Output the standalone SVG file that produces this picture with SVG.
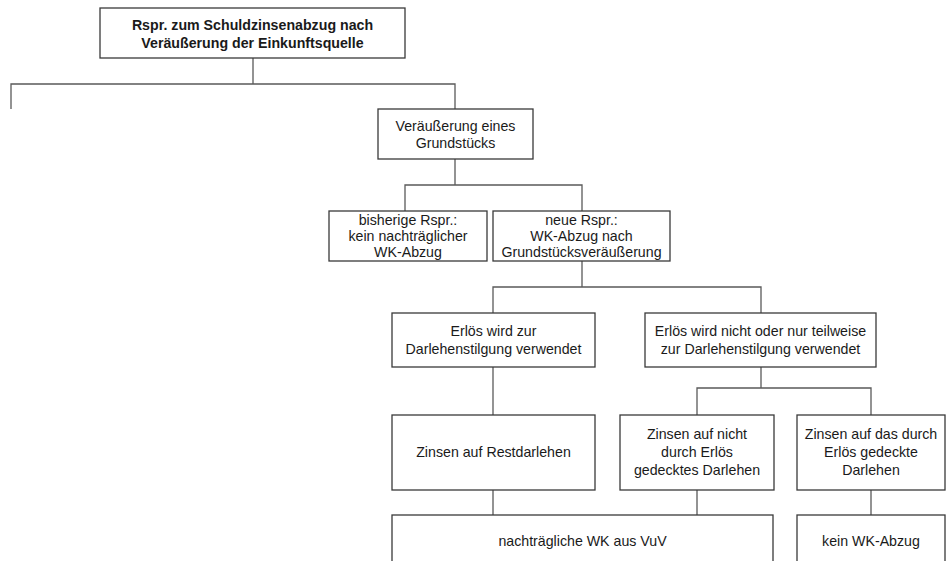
<svg xmlns="http://www.w3.org/2000/svg" width="952" height="561" viewBox="0 0 952 561">
  <style>
    .box { fill: #ffffff; stroke: #3a3a3a; stroke-width: 1.3; }
    .link { fill: none; stroke: #5a5a5a; stroke-width: 1.3; }
    text { font-family: "Liberation Sans", Arial, sans-serif; font-size: 14.2px; fill: #1a1a1a; text-anchor: middle; }
    .bold { font-weight: bold; }
  </style>
  <rect width="952" height="561" fill="#ffffff"/>

  <!-- connectors -->
  <g id="connectors">
    <path class="link" d="M253 58 V84 M11 109 V84 H455 V109"/>
    <path class="link" d="M455 159 V185 M405 211 V185 H582 V211"/>
    <path class="link" d="M582 261 V287 M493 313 V287 H761 V313"/>
    <path class="link" d="M493 367 V415"/>
    <path class="link" d="M761 367 V388 M697 415 V388 H871 V415"/>
    <path class="link" d="M493 490 V515 M697 490 V515 M871 490 V515"/>
  </g>

  <g id="root">
    <rect class="box" x="100" y="8" width="305" height="50"/>
    <text class="bold" x="252.5" y="30">Rspr. zum Schuldzinsenabzug nach</text>
    <text class="bold" x="252.5" y="48">Veräußerung der Einkunftsquelle</text>
  </g>

  <g id="grundstueck">
    <rect class="box" x="378" y="109" width="155" height="50"/>
    <text x="455.5" y="131">Veräußerung eines</text>
    <text x="455.5" y="148">Grundstücks</text>
  </g>

  <g id="bisherige">
    <rect class="box" x="329" y="211" width="158" height="50"/>
    <text x="408" y="225">bisherige Rspr.:</text>
    <text x="408" y="241">kein nachträglicher</text>
    <text x="408" y="257">WK-Abzug</text>
  </g>

  <g id="neue">
    <rect class="box" x="493" y="211" width="177" height="50"/>
    <text x="581.5" y="225">neue Rspr.:</text>
    <text x="581.5" y="241">WK-Abzug nach</text>
    <text x="581.5" y="257">Grundstücksveräußerung</text>
  </g>

  <g id="tilgung">
    <rect class="box" x="392" y="313" width="203" height="54"/>
    <text x="493.5" y="336">Erlös wird zur</text>
    <text x="493.5" y="354">Darlehenstilgung verwendet</text>
  </g>

  <g id="teilweise">
    <rect class="box" x="645" y="313" width="231" height="54"/>
    <text x="760.5" y="336">Erlös wird nicht oder nur teilweise</text>
    <text x="760.5" y="354">zur Darlehenstilgung verwendet</text>
  </g>

  <g id="restdarlehen">
    <rect class="box" x="392" y="415" width="203" height="75"/>
    <text x="493.5" y="457">Zinsen auf Restdarlehen</text>
  </g>

  <g id="nicht-gedeckt">
    <rect class="box" x="620" y="415" width="154" height="75"/>
    <text x="697" y="439">Zinsen auf nicht</text>
    <text x="697" y="457">durch Erlös</text>
    <text x="697" y="475">gedecktes Darlehen</text>
  </g>

  <g id="gedeckt">
    <rect class="box" x="797" y="415" width="148" height="75"/>
    <text x="871" y="439">Zinsen auf das durch</text>
    <text x="871" y="457">Erlös gedeckte</text>
    <text x="871" y="475">Darlehen</text>
  </g>

  <g id="nachtraegliche-wk">
    <rect class="box" x="392" y="515" width="381" height="60"/>
    <text x="582.5" y="546">nachträgliche WK aus VuV</text>
  </g>

  <g id="kein-abzug">
    <rect class="box" x="797" y="515" width="148" height="60"/>
    <text x="871" y="546">kein WK-Abzug</text>
  </g>
</svg>
